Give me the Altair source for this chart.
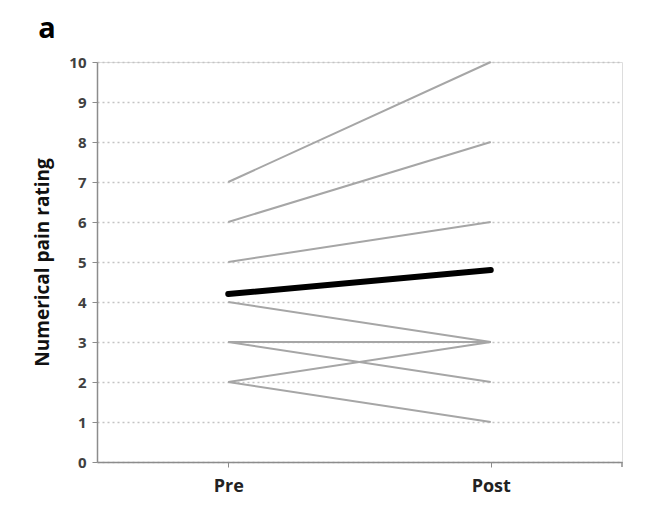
import altair as alt
import pandas as pd

times = ["Pre", "Post"]
pre_values = [7, 6, 5, 4, 3, 3, 2, 2]
post_values = [10, 8, 6, 3, 3, 2, 3, 1]
mean_pre = 4.2
mean_post = 4.8

rows = []
for i, (a, b) in enumerate(zip(pre_values, post_values)):
    rows.append({"id": i, "time": "Pre", "value": a})
    rows.append({"id": i, "time": "Post", "value": b})
df = pd.DataFrame(rows)
mean_df = pd.DataFrame({"time": times, "value": [mean_pre, mean_post]})

x_enc = alt.X("time:N", sort=times, scale=alt.Scale(type="point", padding=0.5),
              axis=alt.Axis(title=None, labelAngle=0, labelFont="Open Sans", labelFontWeight="bold",
                            labelFontSize=18, labelColor="#222222", labelPadding=10,
                            domainColor="#8c8c8c", domainWidth=1.5, tickColor="#8c8c8c",
                            tickSize=5, grid=False))
y_enc = alt.Y("value:Q", scale=alt.Scale(domain=[0, 10], nice=False),
              axis=alt.Axis(title="Numerical pain rating", values=list(range(0, 11)),
                            labelOverlap=False,
                            titleFont="Open Sans", titleFontSize=19, titleFontWeight="bold",
                            titleColor="#111111", titlePadding=16,
                            labelFont="Open Sans", labelFontWeight="bold", labelFontSize=15,
                            labelColor="#404040", labelPadding=6,
                            domainColor="#8c8c8c", domainWidth=1.5, tickColor="#8c8c8c",
                            tickSize=5, grid=True, gridColor="#c4c4c4", gridDash=[2, 3],
                            gridWidth=1.3))

lines = alt.Chart(df).mark_line(color="#a6a6a6", strokeWidth=2).encode(
    x=x_enc, y=y_enc, detail="id:N")
mean_line = alt.Chart(mean_df).mark_line(color="#000000", strokeWidth=6, strokeCap="round").encode(
    x=x_enc, y=y_enc)
extra = pd.DataFrame({"t": ["a"]})
label = alt.Chart(extra).mark_text(
    font="Open Sans", fontSize=29, fontWeight="bold", align="center", baseline="alphabetic",
    color="#000000").encode(text="t:N", x=alt.value(-50), y=alt.value(-24))
end_tick = alt.Chart(extra).mark_rule(color="#8c8c8c", strokeWidth=1.5).encode(
    x=alt.value(525), y=alt.value(400), y2=alt.value(405))

chart = alt.layer(lines, mean_line, label, end_tick).properties(
    width=525, height=400,
    autosize=alt.AutoSizeParams(type="none"),
    padding={"left": 89, "top": 54, "right": 36, "bottom": 56},
).configure_view(stroke=None).configure(background="white")

chart.save("out.html", embed_options={"renderer": "svg", "actions": False})
